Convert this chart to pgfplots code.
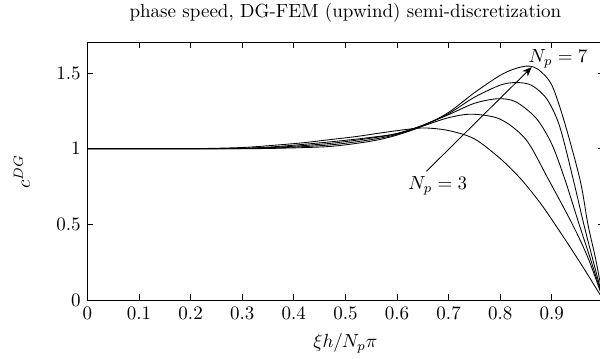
\documentclass[border=0pt]{standalone}
\usepackage{pgfplots}
\pgfplotsset{compat=1.18}
\usetikzlibrary{arrows.meta}
\begin{document}
\begin{tikzpicture}
\begin{axis}[
  scale only axis,
  width=271.5pt, height=135.4pt,
  xmin=0, xmax=1, ymin=0, ymax=1.7,
  xtick={0,0.1,0.2,0.3,0.4,0.5,0.6,0.7,0.8,0.9},
  ytick={0,0.5,1,1.5},
  tick align=inside,
  major tick length=3pt,
  axis line style={line width=0.6pt},
  every tick/.style={black, line width=0.5pt},
  xlabel={$\xi h/N_p\pi$},
  ylabel={$c^{DG}$},
  title={phase speed, DG-FEM (upwind) semi-discretization},
  every axis title shift=0pt,
  title style={at={(axis description cs:0.5,1)}, anchor=base, yshift=13.5pt},
  xlabel style={at={(axis description cs:0.5,0)}, anchor=base, yshift=-25pt},
  ylabel style={at={(axis description cs:0,0.5)}, anchor=center, yshift=34.5pt},
  clip=true,
]
% N_p = 3
\addplot[black, line width=0.45pt, smooth] coordinates {
(0,1) (0.1,1) (0.2,1.0) (0.3,1.008) (0.37,1.025) (0.42,1.04) (0.47,1.06) (0.52,1.08) (0.57,1.105) (0.62,1.128) (0.655,1.137) (0.7,1.12) (0.75,1.065) (0.8,0.935) (0.84,0.80) (0.88,0.63) (0.92,0.43) (0.96,0.22) (1,0)};
% N_p = 4
\addplot[black, line width=0.45pt, smooth] coordinates {
(0,1) (0.1,1) (0.2,1.0) (0.3,1.003) (0.37,1.015) (0.47,1.045) (0.55,1.075) (0.6,1.10) (0.65,1.15) (0.7,1.205) (0.745,1.228) (0.8,1.195) (0.85,1.06) (0.893,0.80) (0.94,0.5) (0.97,0.28) (1,0)};
% N_p = 5
\addplot[black, line width=0.45pt, smooth] coordinates {
(0,1) (0.1,1) (0.2,1.0) (0.3,1.002) (0.37,1.01) (0.47,1.035) (0.55,1.07) (0.6,1.10) (0.65,1.155) (0.7,1.225) (0.75,1.30) (0.795,1.33) (0.83,1.31) (0.87,1.2) (0.9,1.03) (0.926,0.79) (0.953,0.5) (0.975,0.27) (1,0)};
% N_p = 6
\addplot[black, line width=0.45pt, smooth] coordinates {
(0,1) (0.1,1) (0.2,1.0) (0.3,1.001) (0.37,1.006) (0.47,1.025) (0.55,1.06) (0.6,1.095) (0.65,1.155) (0.7,1.232) (0.75,1.34) (0.8,1.42) (0.83,1.437) (0.86,1.42) (0.89,1.33) (0.915,1.15) (0.942,0.79) (0.962,0.5) (0.98,0.26) (1,0)};
% N_p = 7
\addplot[black, line width=0.45pt, smooth] coordinates {
(0,1) (0.1,1) (0.2,1.0) (0.3,1.0) (0.37,1.003) (0.47,1.015) (0.55,1.05) (0.6,1.09) (0.65,1.15) (0.7,1.24) (0.75,1.37) (0.8,1.485) (0.83,1.53) (0.855,1.546) (0.875,1.52) (0.9,1.42) (0.925,1.17) (0.955,0.79) (0.97,0.5) (0.985,0.27) (1,0)};
\draw[black, line width=0.45pt, -{Stealth[length=5pt, width=4pt]}] (axis cs:0.657,0.851) -- (axis cs:0.861,1.539);
\node[inner sep=0.5pt] at (axis cs:0.679,0.757) {$N_p=3$};
\node[inner sep=0.5pt] at (axis cs:0.912,1.592) {$N_p=7$};
\end{axis}
\pgfresetboundingbox
\path[use as bounding box] ([xshift=-46pt,yshift=-30.5pt]current axis.south west) rectangle ([xshift=-1.8pt,yshift=22.5pt]current axis.north east);
\end{tikzpicture}
\end{document}
